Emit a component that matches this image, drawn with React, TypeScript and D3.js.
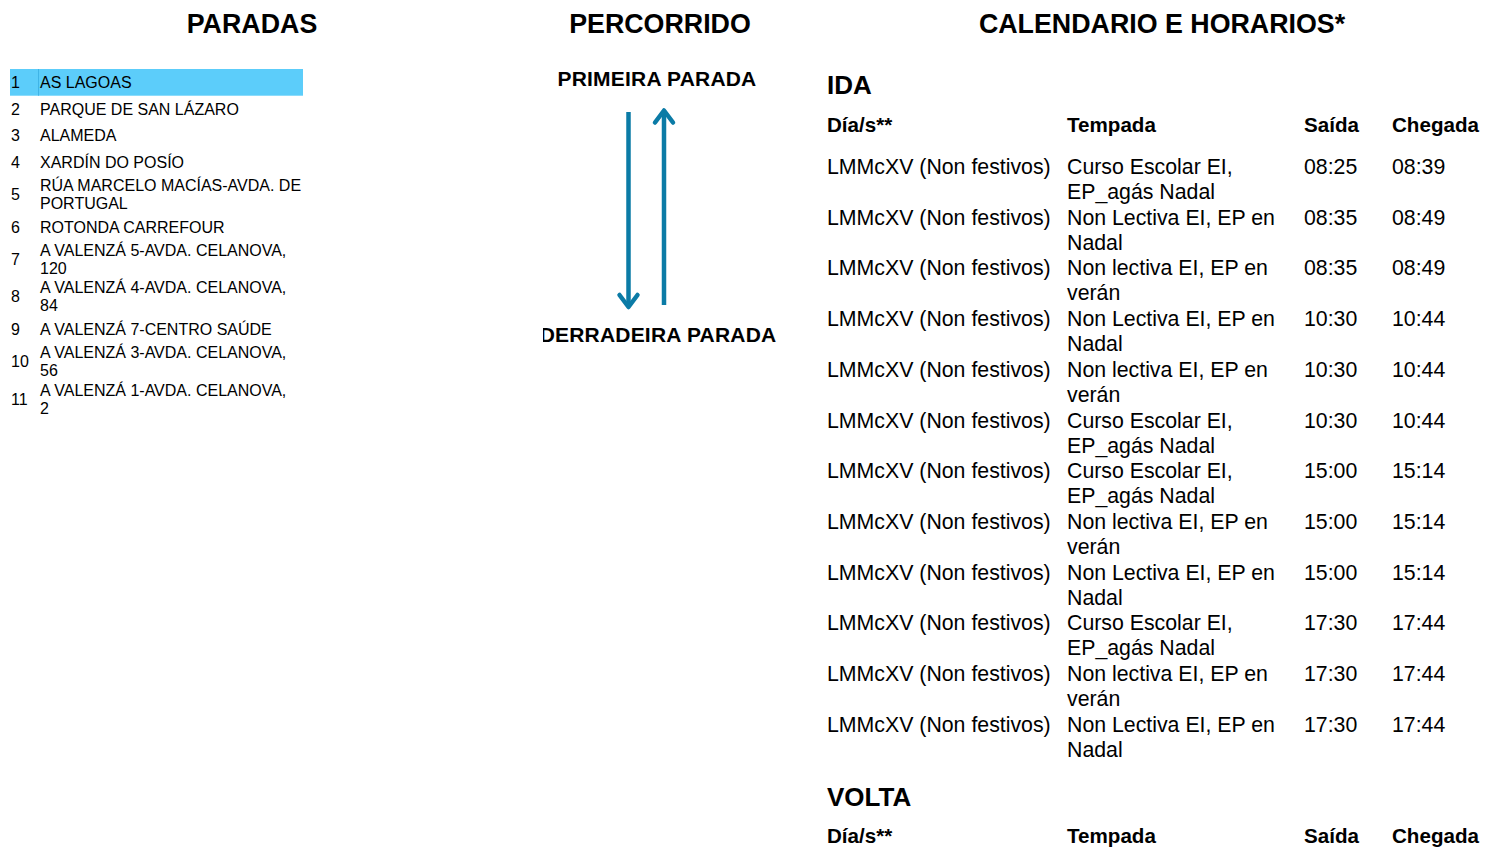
import React, { useEffect } from 'react';
import * as d3 from 'd3';

const W = 1485;
const H = 848;

const sectionTitles = ['PARADAS', 'PERCORRIDO', 'CALENDARIO E HORARIOS*'];

const stops = [
  ['AS LAGOAS'],
  ['PARQUE DE SAN LÁZARO'],
  ['ALAMEDA'],
  ['XARDÍN DO POSÍO'],
  ['RÚA MARCELO MACÍAS-AVDA. DE', 'PORTUGAL'],
  ['ROTONDA CARREFOUR'],
  ['A VALENZÁ 5-AVDA. CELANOVA,', '120'],
  ['A VALENZÁ 4-AVDA. CELANOVA,', '84'],
  ['A VALENZÁ 7-CENTRO SAÚDE'],
  ['A VALENZÁ 3-AVDA. CELANOVA,', '56'],
  ['A VALENZÁ 1-AVDA. CELANOVA,', '2'],
];
const currentStop = 0;

const routeLabels = ['PRIMEIRA PARADA', 'DERRADEIRA PARADA'];

const tableHeaders = ['Día/s**', 'Tempada', 'Saída', 'Chegada'];

const idaDays = Array(12).fill('LMMcXV (Non festivos)');
const idaSeason = [
  ['Curso Escolar EI,', 'EP_agás Nadal'],
  ['Non Lectiva EI, EP en', 'Nadal'],
  ['Non lectiva EI, EP en', 'verán'],
  ['Non Lectiva EI, EP en', 'Nadal'],
  ['Non lectiva EI, EP en', 'verán'],
  ['Curso Escolar EI,', 'EP_agás Nadal'],
  ['Curso Escolar EI,', 'EP_agás Nadal'],
  ['Non lectiva EI, EP en', 'verán'],
  ['Non Lectiva EI, EP en', 'Nadal'],
  ['Curso Escolar EI,', 'EP_agás Nadal'],
  ['Non lectiva EI, EP en', 'verán'],
  ['Non Lectiva EI, EP en', 'Nadal'],
];
const idaDeparture = ['08:25', '08:35', '08:35', '10:30', '10:30', '10:30', '15:00', '15:00', '15:00', '17:30', '17:30', '17:30'];
const idaArrival = ['08:39', '08:49', '08:49', '10:44', '10:44', '10:44', '15:14', '15:14', '15:14', '17:44', '17:44', '17:44'];

const FONT = '"Liberation Sans", Arial, Helvetica, sans-serif';
const BLUE = '#0b7ba6';
const HIGHLIGHT = '#5ccdfa';

export default function App() {
  useEffect(() => {
    document.body.style.margin = '0';
  }, []);

  // stops list: row heights depend on number of text lines
  const singleH = 26.7;
  const doubleH = 37.7;
  const stopH = (i: number) => (stops[i].length > 1 ? doubleH : singleH);
  const stopTops: number[] = [];
  let acc = 69;
  stops.forEach((_, i) => {
    stopTops.push(acc);
    acc += stopH(i);
  });

  // timetable rows
  const rowY = d3
    .scaleLinear()
    .domain([0, idaDays.length - 1])
    .range([174, 174 + 50.7 * (idaDays.length - 1)]);
  const colX = d3
    .scaleOrdinal<string, number>()
    .domain(tableHeaders)
    .range([827, 1067, 1304, 1392]);

  const voltaY = rowY(idaDays.length - 1) + 74;

  const titleX = d3.scaleOrdinal<string, number>().domain(sectionTitles).range([252, 660, 1162]);

  // arrows
  const arrowY = d3.scaleLinear().domain([0, 1]).range([111, 308]);
  const downX = 628.5;
  const upX = 664;
  const chev = (x: number, tipY: number, dir: number) =>
    d3.line()([
      [x - 9, tipY - dir * 12],
      [x, tipY],
      [x + 9, tipY - dir * 12],
    ]) as string;

  return (
    <svg width={W} height={H} style={{ display: 'block', background: '#fff' }} fontFamily={FONT}>
      <defs>
        <clipPath id="route-clip">
          <rect x={543} y={0} width={260} height={H} />
        </clipPath>
      </defs>

      {sectionTitles.map((t) => (
        <text key={t} x={titleX(t)} y={33} textAnchor="middle" fontSize={26.8} fontWeight="bold" fill="#000">
          {t}
        </text>
      ))}

      {/* PARADAS */}
      <rect x={10} y={stopTops[currentStop]} width={293} height={stopH(currentStop)} fill={HIGHLIGHT} />
      <line
        x1={38.5}
        x2={38.5}
        y1={stopTops[currentStop]}
        y2={stopTops[currentStop] + stopH(currentStop)}
        stroke="#3fb4e6"
        strokeWidth={1}
      />
      {stops.map((lines, i) => {
        const cy = stopTops[i] + stopH(i) / 2;
        return (
          <g key={i} fontSize={16} fill="#000">
            <text x={11} y={cy + 5.7}>{i + 1}</text>
            {lines.map((l, j) => (
              <text key={j} x={40} y={cy + 5.7 + (j - (lines.length - 1) / 2) * 18}>
                {l}
              </text>
            ))}
          </g>
        );
      })}

      {/* PERCORRIDO */}
      <g clipPath="url(#route-clip)">
        <text x={657} y={86} textAnchor="middle" fontSize={21} fontWeight="bold" fill="#000" letterSpacing={0.2}>
          {routeLabels[0]}
        </text>
        <text x={658} y={342} textAnchor="middle" fontSize={21} fontWeight="bold" fill="#000" letterSpacing={0.2}>
          {routeLabels[1]}
        </text>
      </g>
      <g stroke={BLUE} strokeWidth={4.5} fill="none" strokeLinecap="round" strokeLinejoin="round">
        <line x1={downX} x2={downX} y1={arrowY(0) + 1} y2={arrowY(1) - 1} strokeLinecap="butt" />
        <path d={chev(downX, arrowY(1) - 1, 1)} />
        <line x1={upX} x2={upX} y1={arrowY(1) - 3} y2={arrowY(0)} strokeLinecap="butt" />
        <path d={chev(upX, arrowY(0) - 0.5, -1)} />
      </g>

      {/* CALENDARIO */}
      <text x={827} y={94} fontSize={26} fontWeight="bold" fill="#000">IDA</text>
      {tableHeaders.map((h) => (
        <text key={h} x={colX(h)} y={132} fontSize={20.6} fontWeight="bold" fill="#000">
          {h}
        </text>
      ))}
      {idaDays.map((d, i) => (
        <g key={i} fontSize={21.3} fill="#000">
          <text x={colX(tableHeaders[0])} y={rowY(i)}>{d}</text>
          {idaSeason[i].map((s, j) => (
            <text key={j} x={colX(tableHeaders[1])} y={rowY(i) + j * 25}>
              {s}
            </text>
          ))}
          <text x={colX(tableHeaders[2])} y={rowY(i)}>{idaDeparture[i]}</text>
          <text x={colX(tableHeaders[3])} y={rowY(i)}>{idaArrival[i]}</text>
        </g>
      ))}

      <text x={827} y={voltaY} fontSize={26} fontWeight="bold" fill="#000">VOLTA</text>
      {tableHeaders.map((h) => (
        <text key={'v' + h} x={colX(h)} y={voltaY + 37} fontSize={20.6} fontWeight="bold" fill="#000">
          {h}
        </text>
      ))}
    </svg>
  );
}
